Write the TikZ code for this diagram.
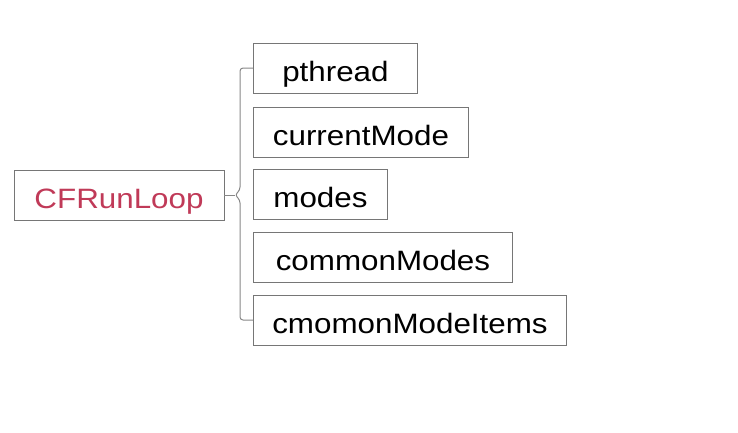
\documentclass[tikz,border=0pt]{standalone}
\usepackage{fontspec}
\setmainfont{Liberation Sans}[FakeStretch=1.12]
\definecolor{loopred}{RGB}{192,58,88}
\definecolor{boxgray}{RGB}{118,118,118}
\definecolor{bracegray}{RGB}{135,135,135}
\tikzset{
  field/.style={draw=boxgray, line width=0.9bp, inner sep=0pt, minimum height=50bp,
    text height=26bp, text depth=0bp, font=\fontsize{28bp}{30bp}\selectfont},
  brace/.style={draw=bracegray, line width=1bp}
}
\begin{document}
\begin{tikzpicture}[x=1bp, y=-1bp]
                \useasboundingbox (0,0) rectangle (738,432);
                \node[field, minimum width=210bp, text=loopred] (runloop) at (119,195) {CFRunLoop};
                \node[field, minimum width=164bp, anchor=west] (pthread) at (253,68) {pthread};
                \node[field, minimum width=215bp, anchor=west] (curmode) at (253,132) {currentMode};
                \node[field, minimum width=134bp, anchor=west] (modes) at (253,194) {modes};
                \node[field, minimum width=259bp, anchor=west] (commodes) at (253,257) {commonModes};
                \node[field, minimum width=313bp, anchor=west] (comitems) at (253,320) {cmomonModeItems};
                \coordinate (cusp) at (235,195);

                \draw[brace] (runloop) -- (cusp);
                \draw[brace, rounded corners=3bp] (pthread.west) -| (240,190) -- (cusp) -- (240,200) |- (comitems.west);
            \end{tikzpicture}
\end{document}
